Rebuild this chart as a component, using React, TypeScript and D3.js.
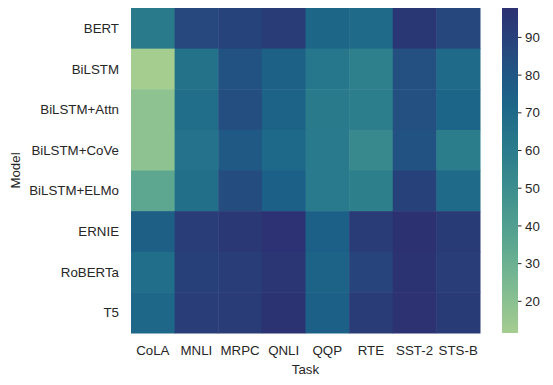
import React from "react";
import * as d3 from "d3";

const models = ["BERT", "BiLSTM", "BiLSTM+Attn", "BiLSTM+CoVe", "BiLSTM+ELMo", "ERNIE", "RoBERTa", "T5"];
const tasks = ["CoLA", "MNLI", "MRPC", "QNLI", "QQP", "RTE", "SST-2", "STS-B"];
const scores: number[][] = [
  [60.5, 86.7, 89.3, 92.7, 72.1, 70.1, 94.9, 87.6],
  [11.6, 65.6, 81.8, 74.6, 62.5, 57.4, 82.8, 70.3],
  [18.6, 67.6, 83.9, 74.3, 60.1, 58.4, 83.0, 72.8],
  [18.5, 65.4, 78.7, 70.8, 60.6, 52.7, 81.9, 59.4],
  [35.0, 67.2, 84.9, 75.0, 61.0, 58.0, 89.8, 70.0],
  [75.5, 92.3, 93.9, 97.3, 75.2, 92.6, 97.8, 93.0],
  [67.8, 90.8, 92.3, 95.4, 74.3, 88.2, 96.7, 92.2],
  [71.6, 92.2, 92.8, 96.9, 75.1, 92.8, 97.5, 93.1],
];
const cbTicks = [20, 30, 40, 50, 60, 70, 80, 90];
const crestStops = ["#a5cd90", "#7dba91", "#59a590", "#40908e", "#287a8c", "#1c6488", "#254b7f", "#2c3172"];

const W = 553, H = 385;
const left = 131, right = 480, top = 8, bottom = 333;
const cbX = 502, cbW = 16;
const textColor = "#262626";
const font = "'Liberation Sans', Arial, sans-serif";
const fs = 13.3;

export default function App() {
  const all = scores.flat();
  const vmin = d3.min(all)!, vmax = d3.max(all)!;
  const interp = d3.piecewise(d3.interpolateRgb, crestStops);
  const color = d3.scaleSequential(interp).domain([vmin, vmax]);
  const x = d3.scaleBand<string>().domain(tasks).range([left, right]);
  const y = d3.scaleBand<string>().domain(models).range([top, bottom]);
  const cy = d3.scaleLinear().domain([vmin, vmax]).range([bottom, top]);
  const gradStops = d3.range(0, 1.0001, 0.05);

  return (
    <svg width={W} height={H} style={{ position: "absolute", left: 0, top: 0 }} fontFamily={font}>
      <defs>
        <linearGradient id="cb" x1="0" y1="1" x2="0" y2="0">
          {gradStops.map((t, i) => (
            <stop key={i} offset={t} stopColor={interp(t)} />
          ))}
        </linearGradient>
      </defs>
      <rect width={W} height={H} fill="#fff" />
      {scores.map((row, i) =>
        row.map((v, j) => (
          <rect
            key={`${i}-${j}`}
            x={x(tasks[j])!}
            y={y(models[i])!}
            width={x.bandwidth() + 0.5}
            height={y.bandwidth() + 0.5}
            fill={color(v)}
          />
        ))
      )}
      {models.map((m) => (
        <text key={m} x={left - 12} y={y(m)! + y.bandwidth() / 2} dy="0.35em" textAnchor="end" fontSize={fs} fill={textColor}>
          {m}
        </text>
      ))}
      {tasks.map((t) => (
        <text key={t} x={x(t)! + x.bandwidth() / 2} y={bottom + 22} textAnchor="middle" fontSize={fs} fill={textColor}>
          {t}
        </text>
      ))}
      <text x={(left + right) / 2} y={bottom + 41} textAnchor="middle" fontSize={fs} fill={textColor}>
        Task
      </text>
      <text transform={`translate(20, ${(top + bottom) / 2}) rotate(-90)`} textAnchor="middle" fontSize={fs} fill={textColor}>
        Model
      </text>
      <rect x={cbX} y={top} width={cbW} height={bottom - top} fill="url(#cb)" />
      {cbTicks.map((t) => (
        <g key={t}>
          <line x1={cbX + cbW} x2={cbX + cbW + 3.5} y1={cy(t)} y2={cy(t)} stroke={textColor} strokeWidth={1} />
          <text x={cbX + cbW + 7} y={cy(t)} dy="0.35em" fontSize={fs} fill={textColor}>
            {t}
          </text>
        </g>
      ))}
    </svg>
  );
}
